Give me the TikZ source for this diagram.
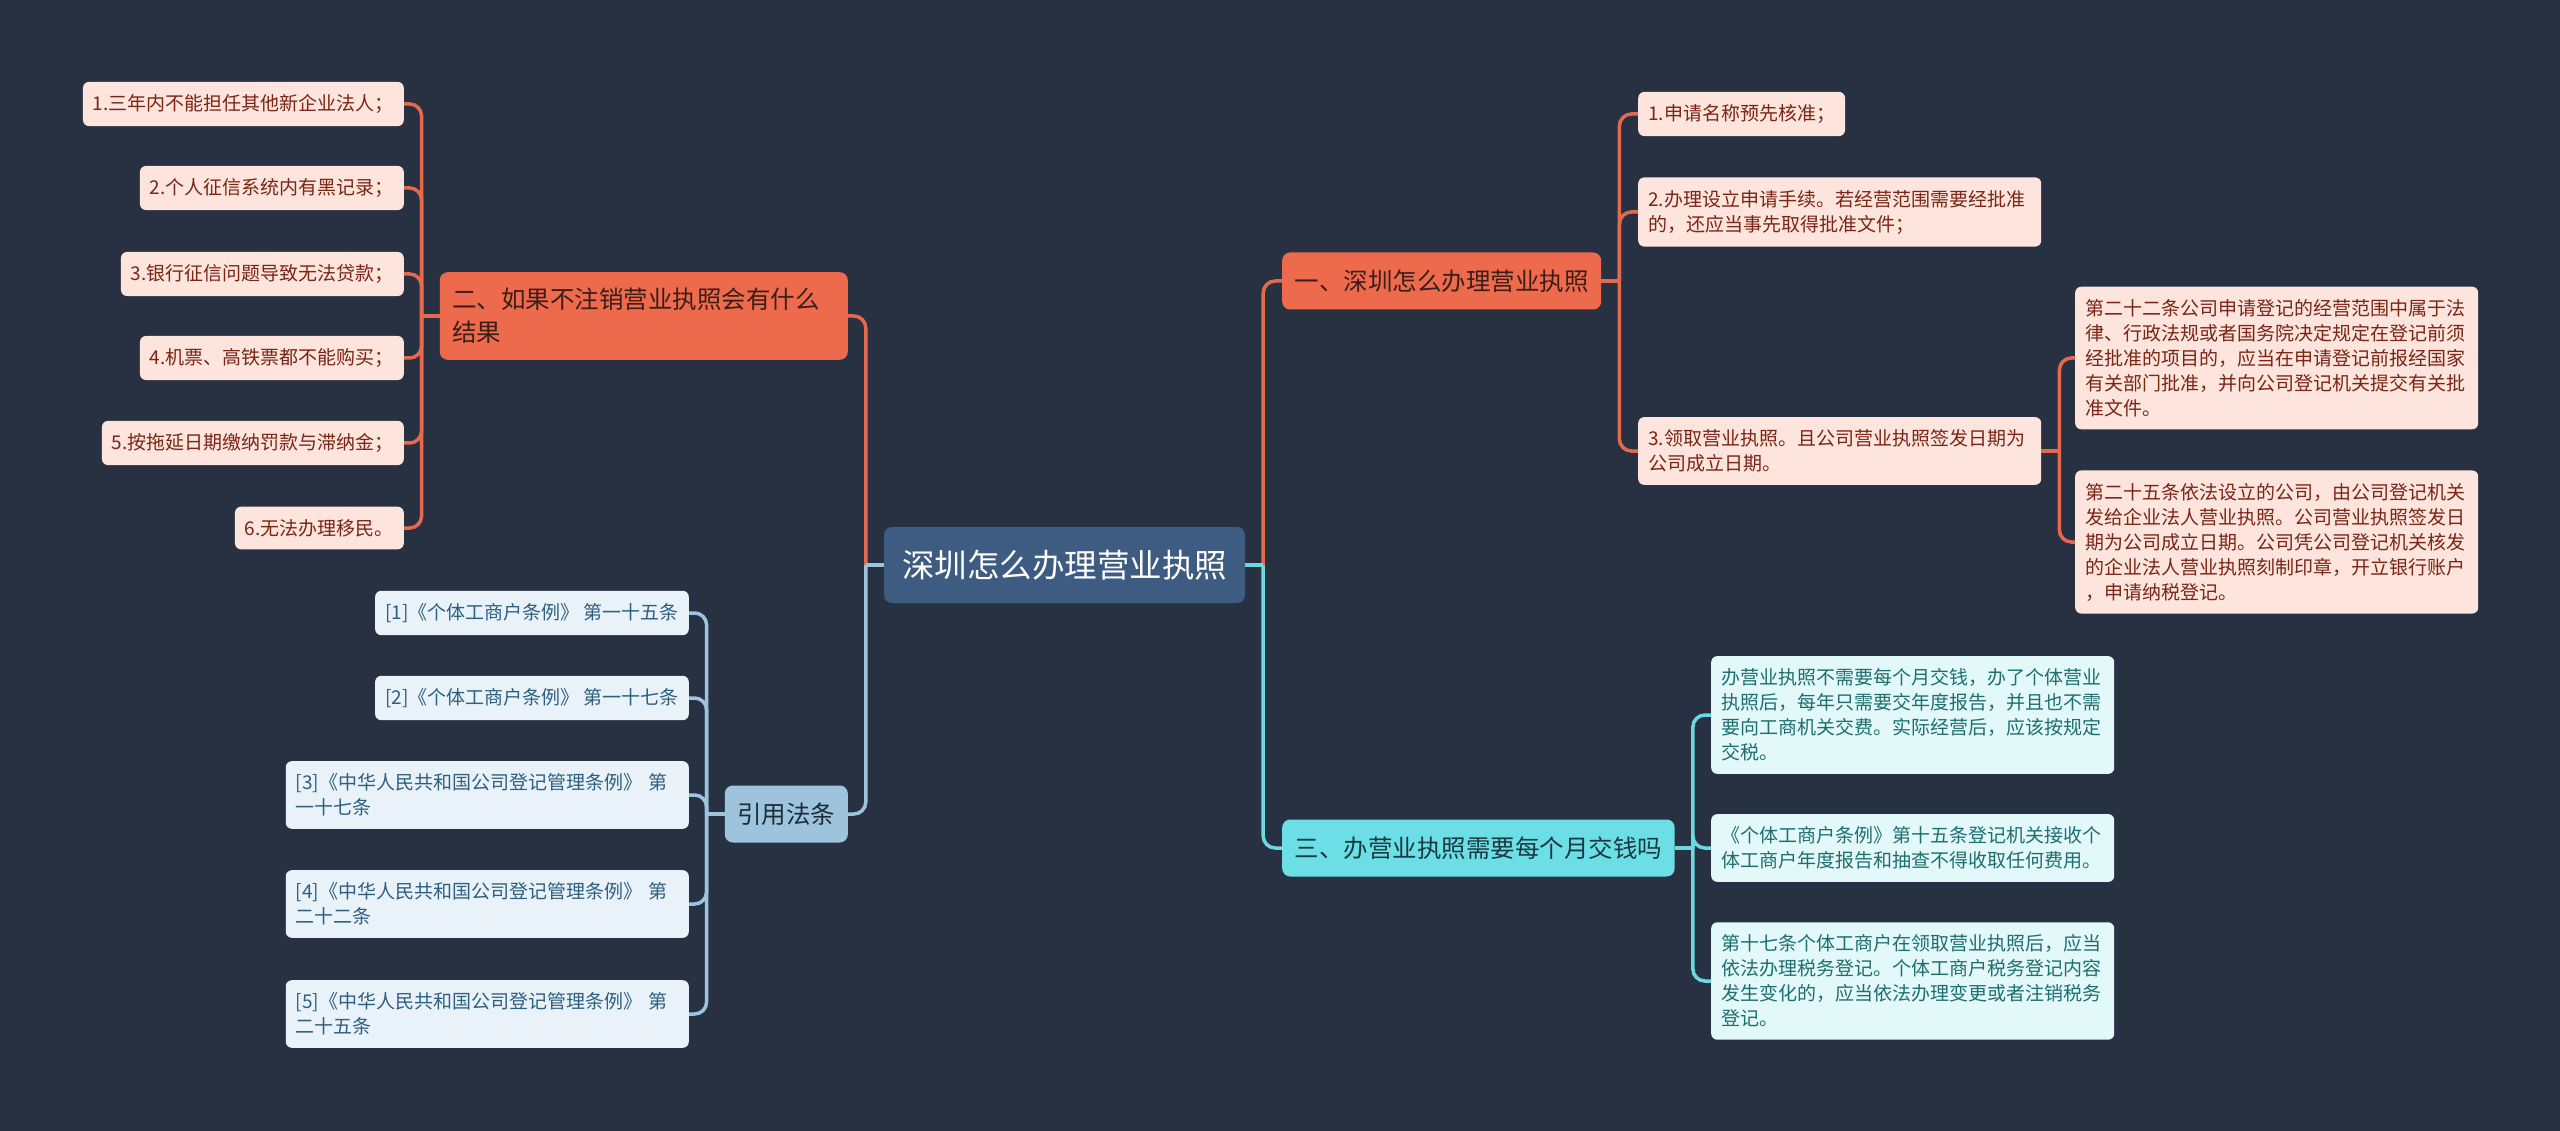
\documentclass[tikz,border=0pt]{standalone}
\usepackage{fontspec}
\setmainfont{Noto Sans CJK SC}
\usetikzlibrary{calc}
\definecolor{bg}{HTML}{283142}
\definecolor{rootfill}{HTML}{3E5B82}
\definecolor{redfill}{HTML}{EE6A4D}
\definecolor{redtext}{HTML}{3A1E17}
\definecolor{redleaf}{HTML}{FDE4DC}
\definecolor{redleaftext}{HTML}{7A2515}
\definecolor{redline}{HTML}{E5694C}
\definecolor{cyanfill}{HTML}{6CDFE6}
\definecolor{cyantext}{HTML}{193940}
\definecolor{cyanleaf}{HTML}{E2F8F9}
\definecolor{cyanleaftext}{HTML}{1E6E70}
\definecolor{cyanline}{HTML}{6CD8E0}
\definecolor{bluefill}{HTML}{9DC3DD}
\definecolor{bluetext}{HTML}{1D2B3A}
\definecolor{blueleaf}{HTML}{E8F2F8}
\definecolor{blueleaftext}{HTML}{2D5F80}
\definecolor{blueline}{HTML}{9DC3DD}
\begin{document}
\begin{tikzpicture}[x=1pt,y=-1pt,
  rootbox/.style={fill=rootfill, text=white, font=\fontsize{32.5}{40}\selectfont,
    inner xsep=18pt, inner ysep=8pt, minimum height=76pt, rounded corners=8pt},
  branchbox/.style={font=\fontsize{24.5}{33}\selectfont, inner xsep=12.5pt, inner ysep=16pt,
    minimum height=57pt, rounded corners=8pt, align=left},
  redbranch/.style={branchbox, fill=redfill, text=redtext},
  cyanbranch/.style={branchbox, fill=cyanfill, text=cyantext},
  bluebranch/.style={branchbox, fill=bluefill, text=bluetext},
  leafbox/.style={font=\fontsize{19}{25}\selectfont, inner xsep=10pt, inner ysep=12.5pt,
    minimum height=42pt, rounded corners=6pt, align=left},
  wide/.style={text width=383pt},
  redleafbox/.style={leafbox, fill=redleaf, text=redleaftext},
  cyanleafbox/.style={leafbox, fill=cyanleaf, text=cyanleaftext},
  blueleafbox/.style={leafbox, fill=blueleaf, text=blueleaftext},
  conn/.style={line width=3.5pt},
  rc/.style={rounded corners=12pt},
]
\fill[bg] (0,0) rectangle (2560,1131);
\useasboundingbox (0,0) rectangle (2560,1131);

% root
\node[rootbox] (root) at (1064.5,565) {深圳怎么办理营业执照};

% main branches
\node[redbranch, anchor=west] (b1) at (1282,281) {一、深圳怎么办理营业执照};
\node[cyanbranch, anchor=west] (b3) at (1282,848) {三、办营业执照需要每个月交钱吗};
\node[redbranch, anchor=east, text width=383pt] (b2) at (848,316) {二、如果不注销营业执照会有什么\\结果};
\node[bluebranch, anchor=east] (b4) at (848,814) {引用法条};

% branch 1 children
\node[redleafbox, anchor=west] (a1) at (1638,114) {1.申请名称预先核准；};
\node[redleafbox, wide, anchor=west] (a2) at (1638,212) {2.办理设立申请手续。若经营范围需要经批准\\的，还应当事先取得批准文件；};
\node[redleafbox, wide, anchor=west] (a3) at (1638,451) {3.领取营业执照。且公司营业执照签发日期为\\公司成立日期。};
\node[redleafbox, wide, anchor=west] (a31) at (2075,358) {第二十二条公司申请登记的经营范围中属于法\\律、行政法规或者国务院决定规定在登记前须\\经批准的项目的，应当在申请登记前报经国家\\有关部门批准，并向公司登记机关提交有关批\\准文件。};
\node[redleafbox, wide, anchor=west] (a32) at (2075,542) {第二十五条依法设立的公司，由公司登记机关\\发给企业法人营业执照。公司营业执照签发日\\期为公司成立日期。公司凭公司登记机关核发\\的企业法人营业执照刻制印章，开立银行账户\\，申请纳税登记。};

% branch 3 children
\node[cyanleafbox, wide, anchor=west] (c1) at (1711,715) {办营业执照不需要每个月交钱，办了个体营业\\执照后，每年只需要交年度报告，并且也不需\\要向工商机关交费。实际经营后，应该按规定\\交税。};
\node[cyanleafbox, wide, anchor=west] (c2) at (1711,848) {《个体工商户条例》第十五条登记机关接收个\\体工商户年度报告和抽查不得收取任何费用。};
\node[cyanleafbox, wide, anchor=west] (c3) at (1711,981) {第十七条个体工商户在领取营业执照后，应当\\依法办理税务登记。个体工商户税务登记内容\\发生变化的，应当依法办理变更或者注销税务\\登记。};

% branch 2 children
\node[redleafbox, anchor=east] (d1) at (404,104) {1.三年内不能担任其他新企业法人；};
\node[redleafbox, anchor=east] (d2) at (404,188) {2.个人征信系统内有黑记录；};
\node[redleafbox, anchor=east] (d3) at (404,274) {3.银行征信问题导致无法贷款；};
\node[redleafbox, anchor=east] (d4) at (404,358) {4.机票、高铁票都不能购买；};
\node[redleafbox, anchor=east] (d5) at (404,443) {5.按拖延日期缴纳罚款与滞纳金；};
\node[redleafbox, anchor=east] (d6) at (404,528) {6.无法办理移民。};

% branch 4 children
\node[blueleafbox, anchor=east] (e1) at (689,613) {[1]《个体工商户条例》 第一十五条};
\node[blueleafbox, anchor=east] (e2) at (689,698) {[2]《个体工商户条例》 第一十七条};
\node[blueleafbox, wide, anchor=east] (e3) at (689,795) {[3]《中华人民共和国公司登记管理条例》 第\\一十七条};
\node[blueleafbox, wide, anchor=east] (e4) at (689,904) {[4]《中华人民共和国公司登记管理条例》 第\\二十二条};
\node[blueleafbox, wide, anchor=east] (e5) at (689,1014) {[5]《中华人民共和国公司登记管理条例》 第\\二十五条};

% junctions
\coordinate (JL) at ($(root.west)+(-18,0)$);
\coordinate (JR) at ($(root.east)+(18,0)$);
\coordinate (J1) at ($(b1.east)+(18,0)$);
\coordinate (J3) at ($(b3.east)+(18,0)$);
\coordinate (J2) at ($(b2.west)+(-18,0)$);
\coordinate (J4) at ($(b4.west)+(-18,0)$);
\coordinate (J13) at ($(a3.east)+(18,0)$);

% connectors: root
\begin{scope}[on background layer/.style={}]
\draw[conn, redline] (root.west) -- (JL);
\draw[conn, redline, rc] (JL) |- (b2.east);
\draw[conn, redline] (root.east) -- (JR);
\draw[conn, redline, rc] (JR) |- (b1.west);
\draw[conn, blueline] (root.west) -- (JL);
\draw[conn, blueline, rc] (JL) |- (b4.east);
\draw[conn, cyanline] (root.east) -- (JR);
\draw[conn, cyanline, rc] (JR) |- (b3.west);
\end{scope}

% branch 1
\draw[conn, redline] (b1.east) -- (J1);
\foreach \n in {a1,a2,a3} \draw[conn, redline, rc] (J1) |- (\n.west);
\draw[conn, redline] (a3.east) -- (J13);
\foreach \n in {a31,a32} \draw[conn, redline, rc] (J13) |- (\n.west);

% branch 3
\draw[conn, cyanline] (b3.east) -- (J3);
\foreach \n in {c1,c2,c3} \draw[conn, cyanline, rc] (J3) |- (\n.west);

% branch 2
\draw[conn, redline] (b2.west) -- (J2);
\foreach \n in {d1,d2,d3,d4,d5,d6} \draw[conn, redline, rc] (J2) |- (\n.east);

% branch 4
\draw[conn, blueline] (b4.west) -- (J4);
\foreach \n in {e1,e2,e3,e4,e5} \draw[conn, blueline, rc] (J4) |- (\n.east);
\end{tikzpicture}
\end{document}
